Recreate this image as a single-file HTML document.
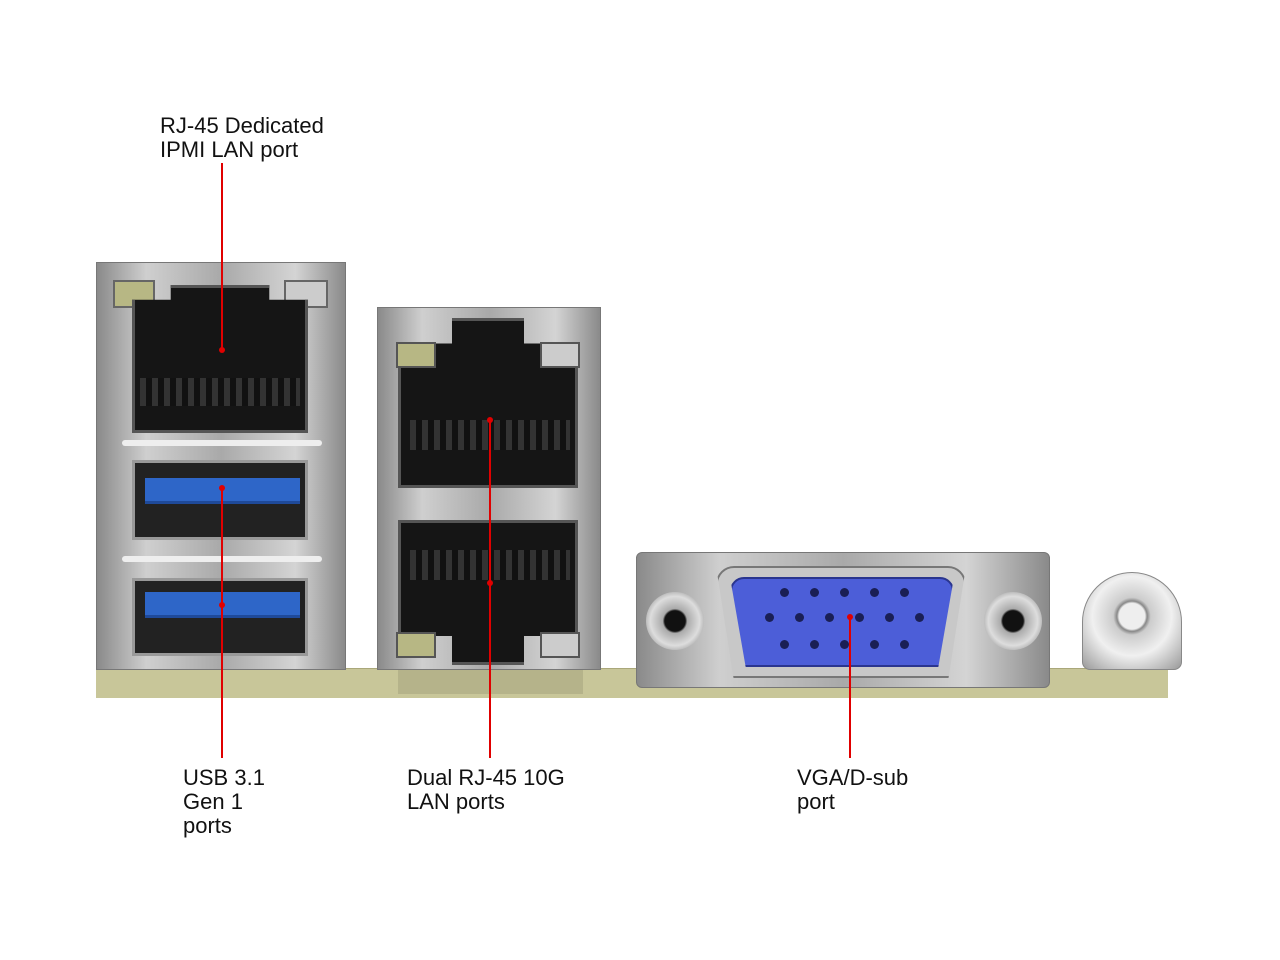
<!DOCTYPE html>
<html><head><meta charset="utf-8"><style>
body{margin:0;width:1280px;height:960px;background:#fff;position:relative;overflow:hidden;font-family:"Liberation Sans",sans-serif}
div{position:absolute;box-sizing:border-box}
.t{font-size:22px;line-height:24px;color:#111}
.r{background:#e00000;width:2px}
.dot{width:6px;height:6px;border-radius:50%;background:#e00000}
.metal{background:linear-gradient(90deg,#8a8a8a,#cfcfcf 20%,#a9a9a9 50%,#d4d4d4 80%,#8a8a8a);border:1px solid #777}
.rj{background:#151515;border:3px solid #555}
.usb{background:#222;border:3px solid #999}
.tongue{background:#2e66c8;border-bottom:3px solid #1f4a9a}
.pin{width:9px;height:9px;border-radius:50%;background:#1a1f55}
</style></head><body>
<div class="t" style="left:160px;top:114px">RJ-45 Dedicated<br>IPMI LAN port</div>

<div style="left:96px;top:668px;width:1072px;height:30px;background:#c8c699;border-top:1px solid #aaa77a"></div>
<div style="left:398px;top:668px;width:185px;height:26px;background:#b5b38a"></div>

<div class="metal" style="left:96px;top:262px;width:250px;height:408px"></div>
<div style="left:113px;top:280px;width:42px;height:28px;background:#b7b784;border:2px solid #666"></div>
<div style="left:284px;top:280px;width:44px;height:28px;background:#ccc;border:2px solid #666"></div>
<div class="rj" style="left:132px;top:285px;width:176px;height:148px;clip-path:polygon(22% 0,78% 0,78% 10%,100% 10%,100% 100%,0 100%,0 10%,22% 10%)"></div>
<div style="left:140px;top:378px;width:160px;height:28px;background:repeating-linear-gradient(90deg,#333 0 6px,#111 6px 12px)"></div>
<div style="left:122px;top:440px;width:200px;height:6px;background:#eee;border-radius:3px"></div>
<div class="usb" style="left:132px;top:460px;width:176px;height:80px"></div>
<div class="tongue" style="left:145px;top:478px;width:155px;height:26px"></div>
<div style="left:122px;top:556px;width:200px;height:6px;background:#eee;border-radius:3px"></div>
<div class="usb" style="left:132px;top:578px;width:176px;height:78px"></div>
<div class="tongue" style="left:145px;top:592px;width:155px;height:26px"></div>

<div class="metal" style="left:377px;top:307px;width:224px;height:363px"></div>
<div class="rj" style="left:398px;top:318px;width:180px;height:170px;clip-path:polygon(30% 0,70% 0,70% 15%,100% 15%,100% 100%,0 100%,0 15%,30% 15%)"></div>
<div style="left:396px;top:342px;width:40px;height:26px;background:#b7b784;border:2px solid #555"></div>
<div style="left:540px;top:342px;width:40px;height:26px;background:#ccc;border:2px solid #555"></div>
<div style="left:410px;top:420px;width:160px;height:30px;background:repeating-linear-gradient(90deg,#333 0 6px,#111 6px 12px)"></div>
<div class="rj" style="left:398px;top:520px;width:180px;height:145px;clip-path:polygon(0 0,100% 0,100% 80%,70% 80%,70% 100%,30% 100%,30% 80%,0 80%)"></div>
<div style="left:396px;top:632px;width:40px;height:26px;background:#b7b784;border:2px solid #555"></div>
<div style="left:540px;top:632px;width:40px;height:26px;background:#ccc;border:2px solid #555"></div>
<div style="left:410px;top:550px;width:160px;height:30px;background:repeating-linear-gradient(90deg,#333 0 6px,#111 6px 12px)"></div>

<div class="metal" style="left:636px;top:552px;width:414px;height:136px;border-radius:6px"></div>
<div style="left:646px;top:592px;width:58px;height:58px;border-radius:50%;background:radial-gradient(#111 25%,#aaa 30%,#ddd 60%,#666 100%)"></div>
<div style="left:984px;top:592px;width:58px;height:58px;border-radius:50%;background:radial-gradient(#111 25%,#aaa 30%,#ddd 60%,#666 100%)"></div>
<div style="left:716px;top:566px;width:250px;height:112px;background:#c8c8c8;border:2px solid #777;border-radius:18px;clip-path:polygon(0 0,100% 0,93% 100%,7% 100%)"></div>
<div style="left:730px;top:577px;width:224px;height:90px;background:#4c5ed8;border:2px solid #2a358f;border-radius:14px;clip-path:polygon(0 0,100% 0,93% 100%,7% 100%)"></div>
<div class="pin" style="left:780px;top:588px"></div><div class="pin" style="left:810px;top:588px"></div><div class="pin" style="left:840px;top:588px"></div><div class="pin" style="left:870px;top:588px"></div><div class="pin" style="left:900px;top:588px"></div>
<div class="pin" style="left:765px;top:613px"></div><div class="pin" style="left:795px;top:613px"></div><div class="pin" style="left:825px;top:613px"></div><div class="pin" style="left:855px;top:613px"></div><div class="pin" style="left:885px;top:613px"></div><div class="pin" style="left:915px;top:613px"></div>
<div class="pin" style="left:780px;top:640px"></div><div class="pin" style="left:810px;top:640px"></div><div class="pin" style="left:840px;top:640px"></div><div class="pin" style="left:870px;top:640px"></div><div class="pin" style="left:900px;top:640px"></div>

<div style="left:1082px;top:572px;width:100px;height:98px;border-radius:50px 50px 8px 8px;background:radial-gradient(circle at 50% 45%,#eee 18%,#888 21%,#ccc 26%,#f0f0f0 55%,#999 100%);border:1px solid #888"></div>

<div class="r" style="left:221px;top:163px;height:187px"></div><div class="dot" style="left:219px;top:347px"></div>
<div class="r" style="left:221px;top:488px;height:270px"></div><div class="dot" style="left:219px;top:485px"></div><div class="dot" style="left:219px;top:602px"></div>
<div class="r" style="left:489px;top:420px;height:338px"></div><div class="dot" style="left:487px;top:417px"></div><div class="dot" style="left:487px;top:580px"></div>
<div class="r" style="left:849px;top:617px;height:141px"></div><div class="dot" style="left:847px;top:614px"></div>

<div class="t" style="left:183px;top:766px">USB 3.1<br>Gen 1<br>ports</div>
<div class="t" style="left:407px;top:766px">Dual RJ-45 10G<br>LAN ports</div>
<div class="t" style="left:797px;top:766px">VGA/D-sub<br>port</div>
</body></html>
